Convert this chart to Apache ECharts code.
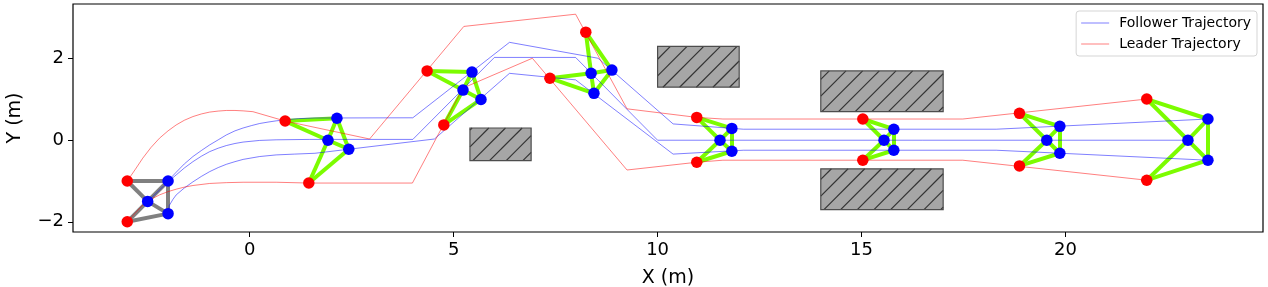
<!DOCTYPE html>
<html><head><meta charset="utf-8">
<script src="https://cdn.jsdelivr.net/npm/echarts@6/dist/echarts.min.js"></script>
<style>html,body{margin:0;padding:0;background:#fff}#c{width:1268px;height:287px}</style>
</head><body><div id="c"></div>
<script>
// ---- Data ----
const xTicks = [0, 5, 10, 15, 20];
const yTicks = [-2, 0, 2];

const leaderTrajA = [[-3,-1],[-2.8,-0.71],[-2.62,-0.44],[-2.42,-0.18],[-2.21,0.05],[-2.0,0.23],[-1.8,0.375],[-1.6,0.49],[-1.39,0.58],[-1.18,0.645],[-0.98,0.69],[-0.77,0.715],[-0.57,0.73],[-0.36,0.73],[-0.16,0.72],[0.08,0.70],[0.87,0.47],[2.94,0.03],[5.25,2.79],[7.99,3.09],[9.25,0.77],[10.96,0.56],[11.6,0.52],[17.48,0.52],[21.99,1.01]];
const leaderTrajB = [[-3,-2],[-2.8,-1.78],[-2.62,-1.59],[-2.42,-1.45],[-2.21,-1.34],[-2.0,-1.26],[-1.8,-1.2],[-1.6,-1.15],[-1.39,-1.11],[-0.98,-1.06],[-0.57,-1.04],[-0.16,-1.03],[0.65,-1.03],[1.45,-1.05],[3.99,-1.05],[5.23,1.28],[6.93,2.01],[9.25,-0.73],[10.96,-0.54],[11.6,-0.49],[17.48,-0.49],[21.99,-0.98]];
const followerTrajA = [[-2,-1],[-1.9,-0.89],[-1.8,-0.785],[-1.6,-0.58],[-1.39,-0.40],[-1.18,-0.25],[-0.98,-0.115],[-0.77,0.01],[-0.57,0.13],[-0.36,0.23],[-0.16,0.30],[0.05,0.36],[0.245,0.41],[0.45,0.445],[0.65,0.475],[0.87,0.50],[1.2,0.53],[1.6,0.545],[4.0,0.55],[6.37,2.40],[8.54,2.01],[10.38,0.40],[12.1,0.27],[18.3,0.27],[23.49,0.52]];
const followerTrajB = [[-2.5,-1.5],[-2.21,-1.22],[-2.0,-1.02],[-1.8,-0.85],[-1.6,-0.68],[-1.39,-0.525],[-1.18,-0.39],[-0.98,-0.28],[-0.77,-0.195],[-0.57,-0.13],[-0.36,-0.08],[-0.16,-0.045],[0.245,-0.005],[0.65,0.01],[1.47,0.02],[4.0,0.02],[6.0,2.03],[7.99,2.03],[10.0,0.0],[23.0,0.0]];
const followerTrajC = [[-2,-1.8],[-1.97,-1.6],[-1.88,-1.45],[-1.8,-1.34],[-1.6,-1.17],[-1.39,-1.02],[-1.18,-0.885],[-0.98,-0.77],[-0.77,-0.67],[-0.57,-0.59],[-0.36,-0.525],[-0.16,-0.47],[0.245,-0.40],[0.65,-0.36],[1.1,-0.34],[1.6,-0.32],[4.53,0.03],[6.37,1.64],[7.99,1.48],[10.38,-0.34],[12.1,-0.245],[18.3,-0.245],[23.49,-0.49]];

// formation snapshots: leaders [L1, L2], followers [F1, F2, F3]
const formationLeaders = [
  [[-3,-1],[-3,-2]],
  [[0.87,0.47],[1.45,-1.05]],
  [[4.35,1.70],[4.76,0.375]],
  [[8.24,2.65],[7.36,1.52]],
  [[10.96,0.56],[10.96,-0.54]],
  [[15.03,0.52],[15.03,-0.49]],
  [[18.87,0.66],[18.87,-0.63]],
  [[21.99,1.01],[21.99,-0.98]]
];
const formationFollowers = [
  [[-2,-1],[-2.5,-1.5],[-2,-1.8]],
  [[2.14,0.54],[1.92,0.0],[2.43,-0.22]],
  [[5.45,1.67],[5.23,1.23],[5.67,1.0]],
  [[8.88,1.72],[8.37,1.64],[8.44,1.15]],
  [[11.82,0.29],[11.53,0.0],[11.82,-0.27]],
  [[15.79,0.27],[15.55,0.0],[15.79,-0.245]],
  [[19.86,0.34],[19.54,0.0],[19.86,-0.32]],
  [[23.49,0.52],[23.0,0.0],[23.49,-0.49]]
];
// obstacles: [xMin, yMin, xMax, yMax]
const obstacles = [
  [5.4,-0.5,6.9,0.3],
  [10.0,1.3,12.0,2.3],
  [14.0,0.7,17.0,1.7],
  [14.0,-1.7,17.0,-0.7]
];

// ---- Build ----
function edgesOf(L, F) {
  return [[L[0],F[0]],[L[0],F[1]],[L[1],F[1]],[L[1],F[2]],[F[0],F[1]],[F[0],F[2]],[F[1],F[2]]]
    .map(p => ({coords: [p[0], p[1]]}));
}
const greyEdges = edgesOf(formationLeaders[0], formationFollowers[0]);
let greenEdges = [];
for (let i = 1; i < formationLeaders.length; i++) greenEdges = greenEdges.concat(edgesOf(formationLeaders[i], formationFollowers[i]));
const leaderPts = [].concat(...formationLeaders);
const followerPts = [].concat(...formationFollowers);

const FONT = 'DejaVu Sans';
const blueLine = 'rgba(0,0,255,0.5)';
const redLine = 'rgba(255,0,0,0.5)';

function trajSeries(name, data, color) {
  return {type:'line', name, data, showSymbol:false, symbol:'none', z:3, silent:true,
    itemStyle:{color}, lineStyle:{color, width:1}, animation:false};
}

const HATCH = 16.67;
function renderObstacle(params, api) {
  const p0 = api.coord([api.value(0), api.value(3)]);
  const p1 = api.coord([api.value(2), api.value(1)]);
  const L = p0[0], T = p0[1], R = p1[0], B = p1[1];
  const children = [{type:'rect', shape:{x:L, y:T, width:R-L, height:B-T},
    style:{fill:'#a6a6a6', stroke:'none'}}];
  const cStart = Math.ceil((L + T) / HATCH) * HATCH;
  for (let c = cStart; c <= R + B; c += HATCH) {
    const xa = Math.max(L, c - B), xb = Math.min(R, c - T);
    if (xb <= xa) continue;
    children.push({type:'line', shape:{x1:xa, y1:c-xa, x2:xb, y2:c-xb},
      style:{stroke:'#333333', lineWidth:1.2}});
  }
  children.push({type:'rect', shape:{x:L, y:T, width:R-L, height:B-T},
    style:{fill:'none', stroke:'#4d4d4d', lineWidth:1.2}});
  return {type:'group', children};
}

const chart = echarts.init(document.getElementById('c'), null, {renderer:'canvas'});
chart.setOption({
  animation:false,
  backgroundColor:'#fff',
  grid:{left:73, right:5, top:4, bottom:55, show:true, borderColor:'#000', borderWidth:1.2,
    backgroundColor:'transparent', containLabel:false, outerBoundsMode:'none'},
  xAxis:{type:'value', min:-4.33, max:24.84, splitLine:{show:false},
    axisLine:{show:false, onZero:false},
    axisTick:{show:true, length:5, lineStyle:{color:'#000'}, customValues:xTicks},
    axisLabel:{customValues:xTicks, fontSize:18, color:'#000', fontFamily:FONT, margin:9},
    name:'X (m)', nameLocation:'middle', nameGap:37, nameTextStyle:{fontSize:19, color:'#000', fontFamily:FONT}},
  yAxis:{type:'value', min:-2.25, max:3.34, splitLine:{show:false},
    axisLine:{show:false, onZero:false},
    axisTick:{show:true, length:5, lineStyle:{color:'#000'}, customValues:yTicks},
    axisLabel:{customValues:yTicks, fontSize:18, color:'#000', fontFamily:FONT, margin:9,
      formatter: v => v < 0 ? '\u2212' + Math.abs(v) : String(v)},
    name:'Y (m)', nameLocation:'middle', nameGap:48, nameRotate:90, nameTextStyle:{fontSize:19, color:'#000', fontFamily:FONT}},
  legend:{orient:'vertical', right:11, top:11, icon:'rect', itemWidth:28, itemHeight:1, itemGap:7,
    data:['Follower Trajectory','Leader Trajectory'],
    textStyle:{fontSize:14, fontFamily:FONT, color:'#000', padding:[0,0,0,5]},
    borderColor:'#d5d5d5', borderWidth:1, borderRadius:3, padding:[5,6,5,5], backgroundColor:'rgba(255,255,255,0.8)'},
  series:[
    {type:'custom', name:'obstacles', data:obstacles, renderItem:renderObstacle, z:1, silent:true},
    {type:'lines', coordinateSystem:'cartesian2d', data:greyEdges, z:2, silent:true,
      lineStyle:{color:'#808080', width:4, opacity:1}},
    {type:'lines', coordinateSystem:'cartesian2d', data:greenEdges, z:2, silent:true,
      lineStyle:{color:'#7cfc00', width:4, opacity:1}},
    trajSeries('Follower Trajectory', followerTrajA, blueLine),
    trajSeries('Follower Trajectory', followerTrajB, blueLine),
    trajSeries('Follower Trajectory', followerTrajC, blueLine),
    trajSeries('Leader Trajectory', leaderTrajA, redLine),
    trajSeries('Leader Trajectory', leaderTrajB, redLine),
    {type:'scatter', name:'leaders', data:leaderPts, symbolSize:11.5, z:4, silent:true, itemStyle:{color:'#ff0000', opacity:1}},
    {type:'scatter', name:'followers', data:followerPts, symbolSize:11.5, z:4, silent:true, itemStyle:{color:'#0000ff', opacity:1}}
  ]
});
</script>
</body></html>
